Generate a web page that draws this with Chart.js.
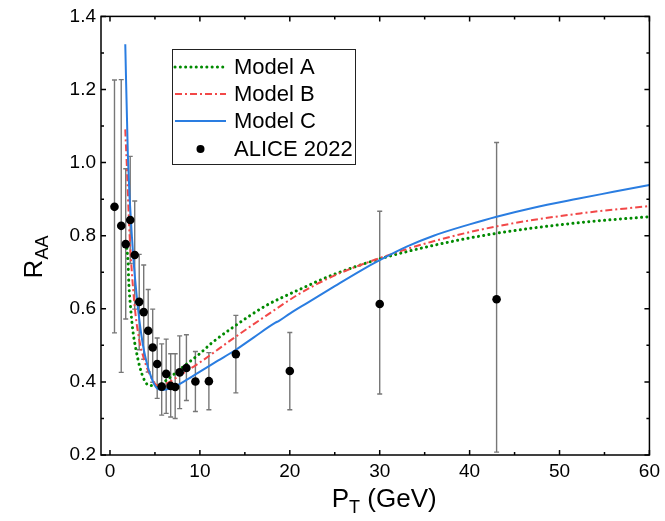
<!DOCTYPE html>
<html>
<head>
<meta charset="utf-8">
<script src="https://cdn.jsdelivr.net/npm/chart.js@4/dist/chart.umd.min.js"></script>
<style>
  html, body { margin: 0; padding: 0; background: #fff; }
  #wrap { width: 665px; height: 521px; }
</style>
</head>
<body>
<div id="wrap"><canvas id="c" width="665" height="521"></canvas></div>
<script>
// ALICE 2022 measurements: pT (GeV), R_AA and the ends of each error bar
const alicePt   = [0.5, 1.25, 1.75, 2.25, 2.75, 3.25, 3.75, 4.25, 4.75, 5.25, 5.75, 6.25, 6.75, 7.25, 7.75, 8.5, 9.5, 11, 14, 20, 30, 43];
const aliceRaa  = [0.879, 0.827, 0.777, 0.843, 0.747, 0.619, 0.591, 0.540, 0.494, 0.449, 0.387, 0.422, 0.389, 0.386, 0.426, 0.438, 0.401, 0.402, 0.476, 0.430, 0.613, 0.626];
const aliceHigh = [1.226, 1.227, 0.983, 1.017, 0.895, 0.749, 0.720, 0.653, 0.599, 0.520, 0.504, 0.517, 0.477, 0.477, 0.526, 0.529, 0.483, 0.480, 0.582, 0.535, 0.867, 1.055];
const aliceLow  = [0.534, 0.426, 0.572, 0.724, 0.599, 0.488, 0.462, 0.427, 0.399, 0.355, 0.309, 0.314, 0.304, 0.300, 0.327, 0.349, 0.319, 0.324, 0.370, 0.324, 0.367, 0.208];

// Model A
const modelAPt  = [1.8, 2.0, 2.1, 2.26, 2.55, 2.92, 3.28, 3.84, 4.39, 5.31, 6.24, 7.71, 9.92, 11.4, 13.6, 17.3, 21, 24.7, 29.8, 35.7, 43.1, 52.3, 60];
const modelARaa = [0.780, 0.729, 0.666, 0.612, 0.539, 0.485, 0.444, 0.404, 0.390, 0.390, 0.404, 0.433, 0.476, 0.508, 0.548, 0.608, 0.652, 0.692, 0.735, 0.772, 0.807, 0.836, 0.852];

// Model B
const modelBPt  = [1.7, 1.75, 1.81, 2.18, 2.48, 2.84, 3.28, 3.84, 4.39, 5.31, 6.24, 7.71, 9.92, 13.6, 17.3, 21, 24.7, 29.8, 35.7, 43.1, 52.3, 60];
const modelBRaa = [1.091, 1.060, 1.028, 0.802, 0.684, 0.585, 0.512, 0.458, 0.422, 0.390, 0.395, 0.417, 0.452, 0.517, 0.580, 0.640, 0.688, 0.737, 0.783, 0.826, 0.861, 0.881];

// Model C
const modelCPt  = [1.7, 1.99, 2.55, 2.92, 3.28, 3.65, 4.03, 4.58, 5.13, 5.86, 6.97, 8.07, 9.92, 12, 14, 16, 18.4, 18.8, 20, 22, 25, 28, 30, 33, 36, 40, 43, 47, 52, 56, 60];
const modelCRaa = [1.324, 1.019, 0.757, 0.648, 0.566, 0.503, 0.458, 0.413, 0.385, 0.378, 0.385, 0.399, 0.427, 0.458, 0.488, 0.522, 0.562, 0.567, 0.587, 0.617, 0.662, 0.706, 0.733, 0.770, 0.800, 0.831, 0.852, 0.876, 0.901, 0.920, 0.939];

// Axis ticks
const xMajorTicks = [0, 10, 20, 30, 40, 50, 60];
const xMinorTicks = [5, 15, 25, 35, 45, 55];
const yMajorTicks = [0.2, 0.4, 0.6, 0.8, 1.0, 1.2, 1.4];
const yMinorTicks = [0.3, 0.5, 0.7, 0.9, 1.1, 1.3];

const FONT = '"Liberation Sans", Arial, sans-serif';
const GREEN = '#008a00', RED = '#f24848', BLUE = '#2a7de1';
const GREEN_DASH = [0.1, 5.2];
const RED_DASH = [7, 3, 2, 3];

const toPoints = (xs, ys) => xs.map((x, i) => ({ x: x, y: ys[i] }));

// Frame around the plot with inward major/minor ticks on all four sides
const frameTicks = {
  id: 'frameTicks',
  afterDraw(chart) {
    const { ctx, chartArea: a, scales: { x, y } } = chart;
    ctx.save();
    ctx.strokeStyle = '#000';
    ctx.lineWidth = 1.5;
    ctx.strokeRect(a.left, a.top, a.right - a.left, a.bottom - a.top);
    ctx.beginPath();
    const tickX = (v, len) => {
      const px = x.getPixelForValue(v);
      ctx.moveTo(px, a.bottom); ctx.lineTo(px, a.bottom - len);
      ctx.moveTo(px, a.top); ctx.lineTo(px, a.top + len);
    };
    const tickY = (v, len) => {
      const py = y.getPixelForValue(v);
      ctx.moveTo(a.left, py); ctx.lineTo(a.left + len, py);
      ctx.moveTo(a.right, py); ctx.lineTo(a.right - len, py);
    };
    xMajorTicks.forEach(v => tickX(v, 5));
    xMinorTicks.forEach(v => tickX(v, 3));
    yMajorTicks.forEach(v => tickY(v, 5));
    yMinorTicks.forEach(v => tickY(v, 3));
    ctx.stroke();
    ctx.restore();
  }
};

// Vertical error bars with small caps for the ALICE points
const errorBars = {
  id: 'errorBars',
  beforeDatasetsDraw(chart) {
    const { ctx, scales: { x, y } } = chart;
    ctx.save();
    ctx.strokeStyle = '#777';
    ctx.lineWidth = 1.4;
    ctx.beginPath();
    alicePt.forEach((pt, i) => {
      const px = x.getPixelForValue(pt);
      const hi = y.getPixelForValue(aliceHigh[i]);
      const lo = y.getPixelForValue(aliceLow[i]);
      ctx.moveTo(px, hi); ctx.lineTo(px, lo);
      ctx.moveTo(px - 2.5, hi); ctx.lineTo(px + 2.5, hi);
      ctx.moveTo(px - 2.5, lo); ctx.lineTo(px + 2.5, lo);
    });
    ctx.stroke();
    ctx.restore();
  }
};

// Boxed legend inside the plot and the axis titles with subscripts
const annotations = {
  id: 'annotations',
  afterDraw(chart) {
    const { ctx, chartArea: a } = chart;
    ctx.save();
    // legend box
    ctx.strokeStyle = '#222';
    ctx.lineWidth = 1;
    ctx.strokeRect(172.5, 49.5, 183, 115);
    function line(yy) { ctx.beginPath(); ctx.moveTo(175, yy); ctx.lineTo(226, yy); ctx.stroke(); }
    const rows = [
      { label: 'Model A', y: 67, draw: yy => { ctx.strokeStyle = GREEN; ctx.lineWidth = 3; ctx.lineCap = 'round'; ctx.setLineDash(GREEN_DASH); line(yy); } },
      { label: 'Model B', y: 94, draw: yy => { ctx.strokeStyle = RED; ctx.lineWidth = 2; ctx.lineCap = 'butt'; ctx.setLineDash(RED_DASH); line(yy); } },
      { label: 'Model C', y: 121, draw: yy => { ctx.strokeStyle = BLUE; ctx.lineWidth = 2; ctx.lineCap = 'butt'; ctx.setLineDash([]); line(yy); } },
      { label: 'ALICE 2022', y: 149, draw: yy => { ctx.setLineDash([]); ctx.fillStyle = '#000'; ctx.beginPath(); ctx.arc(200.5, yy, 4, 0, Math.PI * 2); ctx.fill(); } }
    ];
    rows.forEach(r => {
      r.draw(r.y);
      ctx.setLineDash([]);
      ctx.fillStyle = '#000';
      ctx.font = '22px ' + FONT;
      ctx.textAlign = 'left';
      ctx.textBaseline = 'middle';
      ctx.fillText(r.label, 234, r.y + 1);
    });

    // x title: P_T (GeV)
    ctx.fillStyle = '#000';
    ctx.textBaseline = 'alphabetic';
    const big = '26px ' + FONT, small = '18px ' + FONT;
    const cx = (a.left + a.right) / 2 + 9;
    ctx.font = big; const wP = ctx.measureText('P').width;
    ctx.font = small; const wT = ctx.measureText('T').width;
    ctx.font = big; const wRest = ctx.measureText(' (GeV)').width;
    const sx = cx - (wP + wT + wRest) / 2;
    const by = 507;
    ctx.font = big; ctx.fillText('P', sx, by);
    ctx.font = small; ctx.fillText('T', sx + wP, by + 6);
    ctx.font = big; ctx.fillText(' (GeV)', sx + wP + wT, by);

    // y title: R_AA (rotated)
    ctx.translate(42, 257);
    ctx.rotate(-Math.PI / 2);
    ctx.font = big; const wR = ctx.measureText('R').width;
    ctx.font = small; const wAA = ctx.measureText('AA').width;
    const ry = -(wR + wAA) / 2;
    ctx.font = big; ctx.fillText('R', ry, 0);
    ctx.font = small; ctx.fillText('AA', ry + wR, 6);
    ctx.restore();
  }
};

new Chart(document.getElementById('c'), {
  type: 'scatter',
  data: {
    datasets: [
      {
        label: 'ALICE 2022',
        data: toPoints(alicePt, aliceRaa),
        pointRadius: 4.3,
        pointBackgroundColor: '#000',
        pointBorderColor: '#000',
        pointBorderWidth: 0,
        showLine: false,
        order: 0
      },
      {
        label: 'Model C',
        data: toPoints(modelCPt, modelCRaa),
        showLine: true,
        borderColor: BLUE,
        borderWidth: 2,
        pointRadius: 0,
        cubicInterpolationMode: 'monotone',
        order: 1
      },
      {
        label: 'Model B',
        data: toPoints(modelBPt, modelBRaa),
        showLine: true,
        borderColor: RED,
        borderWidth: 2,
        borderDash: RED_DASH,
        pointRadius: 0,
        cubicInterpolationMode: 'monotone',
        order: 2
      },
      {
        label: 'Model A',
        data: toPoints(modelAPt, modelARaa),
        showLine: true,
        borderColor: GREEN,
        borderWidth: 3,
        borderDash: GREEN_DASH,
        borderCapStyle: 'round',
        pointRadius: 0,
        cubicInterpolationMode: 'monotone',
        order: 3
      }
    ]
  },
  options: {
    responsive: false,
    animation: false,
    layout: { padding: { left: 0, right: 13, top: 13, bottom: 0 } },
    plugins: { legend: { display: false }, tooltip: { enabled: false } },
    scales: {
      x: {
        type: 'linear',
        min: -1, max: 60,
        afterFit: s => { s.height = 66; },
        afterBuildTicks: s => { s.ticks = xMajorTicks.map(v => ({ value: v })); },
        grid: { display: false, drawTicks: false },
        border: { display: false },
        ticks: { color: '#000', padding: 5, font: { family: FONT, size: 19 }, maxRotation: 0 }
      },
      y: {
        type: 'linear',
        min: 0.2, max: 1.4,
        afterFit: s => { s.width = 101; },
        afterBuildTicks: s => { s.ticks = yMajorTicks.map(v => ({ value: v })); },
        grid: { display: false, drawTicks: false },
        border: { display: false },
        ticks: { color: '#000', padding: 5, font: { family: FONT, size: 19 }, callback: v => v.toFixed(1) }
      }
    }
  },
  plugins: [errorBars, frameTicks, annotations]
});
</script>
</body>
</html>
